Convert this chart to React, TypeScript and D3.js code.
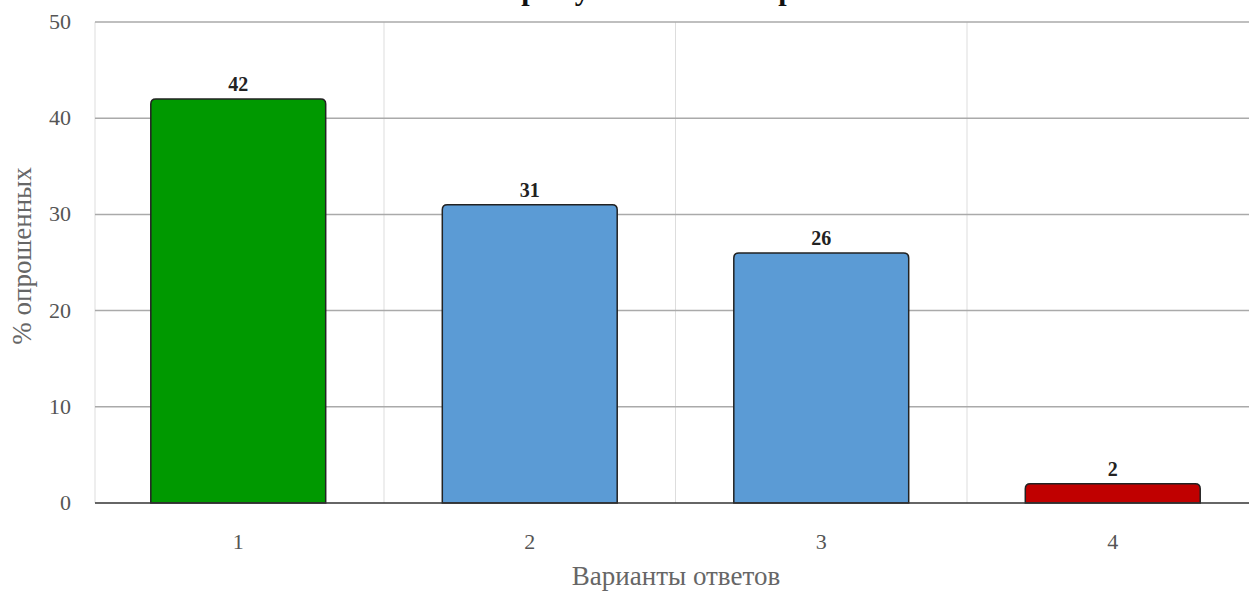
import React from "react";
import * as d3 from "d3";

const categories = ["1", "2", "3", "4"];
const values = [42, 31, 26, 2];
const barColors = ["#009900", "#5b9bd5", "#5b9bd5", "#c00000"];
const yTicks = [0, 10, 20, 30, 40, 50];
const title = "Анализ результатов опроса";
const xTitle = "Варианты ответов";
const yTitle = "% опрошенных";

const W = 1249;
const H = 592;

function topRoundedRect(x: number, y: number, w: number, h: number, r: number) {
  const rr = Math.min(r, h, w / 2);
  return `M${x},${y + h}V${y + rr}Q${x},${y} ${x + rr},${y}H${x + w - rr}Q${x + w},${y} ${x + w},${y + rr}V${y + h}Z`;
}

export default function App() {
  const x = d3.scaleBand<string>().domain(categories).range([92.5, 1258.5]).paddingInner(0.4).paddingOuter(0.2);
  const y = d3.scaleLinear().domain([0, 50]).range([503, 22]);
  const step = x.step();
  const plotLeft = 95;
  const font = "'Liberation Serif', 'DejaVu Serif', serif";

  return (
    <svg width={W} height={H} style={{ position: "absolute", left: 0, top: 0, background: "#fff" }} fontFamily={font}>
      <text x={618} y={0} textAnchor="middle" fontSize={30} fontWeight="bold" fill="#111" textLength={465} lengthAdjust="spacing">{title}</text>
      {categories.slice(1).map((c) => {
        const gx = (x(c) as number) - (step - x.bandwidth()) / 2;
        return <line key={c} x1={gx} x2={gx} y1={y(50)} y2={y(0)} stroke="#dddddd" strokeWidth={1} />;
      })}
      <line x1={plotLeft} x2={plotLeft} y1={y(50)} y2={y(0)} stroke="#dddddd" strokeWidth={1} />
      {yTicks.filter((t) => t !== 0).map((t) => (
        <line key={t} x1={plotLeft} x2={W} y1={y(t)} y2={y(t)} stroke="#aaaaaa" strokeWidth={1.5} />
      ))}
      {yTicks.map((t) => (
        <text key={t} x={71} y={y(t) + 7} textAnchor="end" fontSize={22} fill="#555">{t}</text>
      ))}
      {categories.map((c, i) => {
        const bx = x(c) as number;
        const by = y(values[i]);
        const bh = y(0) - by;
        return (
          <g key={c}>
            <path d={topRoundedRect(bx, by, x.bandwidth(), bh, 5)} fill={barColors[i]} stroke="#222" strokeWidth={1.5} />
            <text x={bx + x.bandwidth() / 2} y={by - 8} textAnchor="middle" fontSize={20} fontWeight="bold" fill="#222">{values[i]}</text>
          </g>
        );
      })}
      <line x1={plotLeft} x2={W} y1={y(0)} y2={y(0)} stroke="#333" strokeWidth={1.5} />
      {categories.map((c) => (
        <text key={c} x={(x(c) as number) + x.bandwidth() / 2} y={549} textAnchor="middle" fontSize={22} fill="#555">{c}</text>
      ))}
      <text x={676} y={585} textAnchor="middle" fontSize={27} fill="#666">{xTitle}</text>
      <text transform={`translate(31,256) rotate(-90)`} textAnchor="middle" fontSize={27} fill="#666">{yTitle}</text>
    </svg>
  );
}
